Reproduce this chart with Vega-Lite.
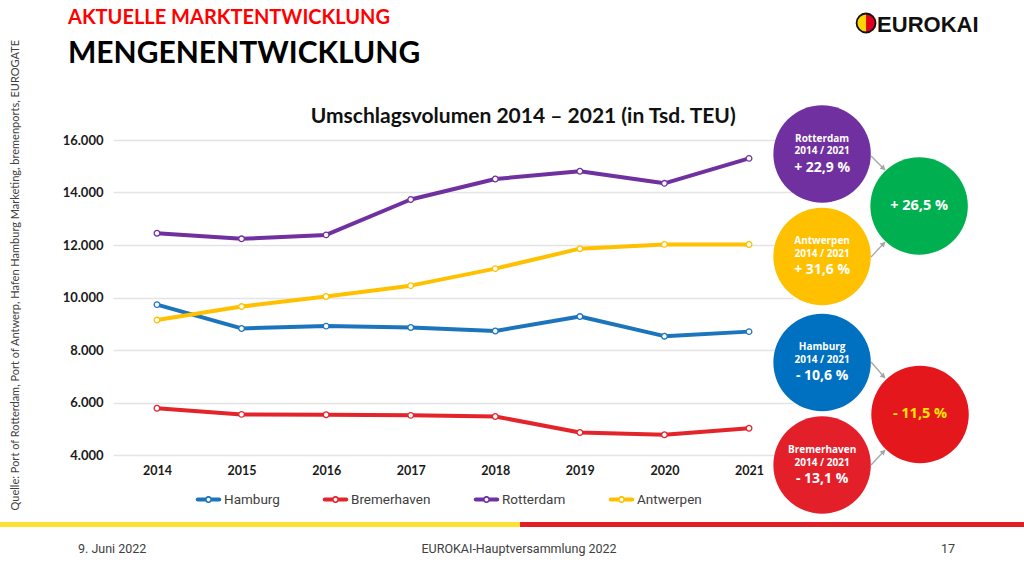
{
  "$schema": "https://vega.github.io/schema/vega-lite/v6.json",
  "width": 680,
  "height": 315,
  "autosize": {"type": "none"},
  "padding": {"left": 113, "top": 140, "right": 231, "bottom": 113},
  "background": "#ffffff",
  "config": {"view": {"stroke": null}},
  "datasets": {
    "teu": [
      {"year": 2014, "port": "Hamburg", "teu": 9729},
      {"year": 2015, "port": "Hamburg", "teu": 8821},
      {"year": 2016, "port": "Hamburg", "teu": 8910},
      {"year": 2017, "port": "Hamburg", "teu": 8860},
      {"year": 2018, "port": "Hamburg", "teu": 8725},
      {"year": 2019, "port": "Hamburg", "teu": 9274},
      {"year": 2020, "port": "Hamburg", "teu": 8527},
      {"year": 2021, "port": "Hamburg", "teu": 8700},
      {"year": 2014, "port": "Bremerhaven", "teu": 5780},
      {"year": 2015, "port": "Bremerhaven", "teu": 5547},
      {"year": 2016, "port": "Bremerhaven", "teu": 5535},
      {"year": 2017, "port": "Bremerhaven", "teu": 5510},
      {"year": 2018, "port": "Bremerhaven", "teu": 5468},
      {"year": 2019, "port": "Bremerhaven", "teu": 4856},
      {"year": 2020, "port": "Bremerhaven", "teu": 4771},
      {"year": 2021, "port": "Bremerhaven", "teu": 5020},
      {"year": 2014, "port": "Rotterdam", "teu": 12450},
      {"year": 2015, "port": "Rotterdam", "teu": 12235},
      {"year": 2016, "port": "Rotterdam", "teu": 12385},
      {"year": 2017, "port": "Rotterdam", "teu": 13734},
      {"year": 2018, "port": "Rotterdam", "teu": 14513},
      {"year": 2019, "port": "Rotterdam", "teu": 14811},
      {"year": 2020, "port": "Rotterdam", "teu": 14349},
      {"year": 2021, "port": "Rotterdam", "teu": 15300},
      {"year": 2014, "port": "Antwerpen", "teu": 9140},
      {"year": 2015, "port": "Antwerpen", "teu": 9654},
      {"year": 2016, "port": "Antwerpen", "teu": 10037},
      {"year": 2017, "port": "Antwerpen", "teu": 10451},
      {"year": 2018, "port": "Antwerpen", "teu": 11100},
      {"year": 2019, "port": "Antwerpen", "teu": 11860},
      {"year": 2020, "port": "Antwerpen", "teu": 12023},
      {"year": 2021, "port": "Antwerpen", "teu": 12020}
    ]
  },
  "layer": [
    {
      "data": {"name": "teu"},
      "mark": {"type": "line", "strokeWidth": 4, "strokeCap": "round", "strokeJoin": "round"},
      "encoding": {
        "x": {"field": "year", "type": "quantitative",
          "scale": {"domain": [2013.48, 2021.52], "nice": false, "zero": false},
          "axis": {"values": [2014, 2015, 2016, 2017, 2018, 2019, 2020, 2021], "format": "d", "title": null, "domain": false, "ticks": false, "grid": false, "labelFont": "Lato", "labelFontWeight": "bold", "labelFontSize": 12.5, "labelColor": "#1a1a1a", "labelPadding": 9, "labelFlush": false, "labelOverlap": false}},
        "y": {"field": "teu", "type": "quantitative",
          "scale": {"domain": [4000, 16000], "nice": false, "zero": false},
          "axis": {"values": [4000, 6000, 8000, 10000, 12000, 14000, 16000], "title": null, "domain": false, "ticks": false, "grid": true, "gridColor": "#e4e4e4", "gridWidth": 1.5, "labelExpr": "replace(format(datum.value, ','), ',', '.')", "labelFont": "Lato", "labelFontWeight": "bold", "labelFontSize": 13, "labelColor": "#1a1a1a", "labelPadding": 10}},
        "color": {"field": "port", "type": "nominal",
          "scale": {"domain": ["Hamburg", "Bremerhaven", "Rotterdam", "Antwerpen"], "range": ["#1c75bc", "#e3242b", "#7030a0", "#ffc000"]},
          "legend": {"orient": "none", "legendX": 83, "legendY": 347, "direction": "horizontal", "title": null,
            "symbolType": "M-0.86,-0.16L-0.23,-0.16A0.28,0.28 0 0 1 0.23,-0.16L0.86,-0.16A0.16,0.16 0 0 1 0.86,0.16L0.23,0.16A0.28,0.28 0 0 1 -0.23,0.16L-0.86,0.16A0.16,0.16 0 0 1 -0.86,-0.16ZM0.15,0A0.15,0.15 0 1 0 -0.15,0A0.15,0.15 0 1 0 0.15,0Z",
            "symbolSize": 625, "symbolStrokeWidth": 0, "labelFont": "Roboto", "labelFontSize": 13.5, "labelColor": "#404040", "labelOffset": 3, "columnPadding": 42, "padding": 0,
            "encode": {"symbols": {"update": {"fill": {"scale": "color", "field": "value"}, "fillOpacity": {"value": 1}, "opacity": {"value": 1}}}}}}
      }
    },
    {
      "data": {"name": "teu"},
      "mark": {"type": "point", "filled": true, "size": 32, "strokeWidth": 1.3, "opacity": 1},
      "encoding": {
        "x": {"field": "year", "type": "quantitative"},
        "y": {"field": "teu", "type": "quantitative"},
        "fill": {"value": "#ffffff"},
        "stroke": {"field": "port", "type": "nominal", "scale": {"domain": ["Hamburg", "Bremerhaven", "Rotterdam", "Antwerpen"], "range": ["#1c75bc", "#e3242b", "#7030a0", "#ffc000"]}, "legend": null}
      }
    },
    {
      "data": {"values": [{"port": "Rotterdam", "period": "2014 / 2021", "change": "+ 22,9 %"}]},
      "encoding": {"x": {"datum": 2021.864, "type": "quantitative"}, "y": {"datum": 15467, "type": "quantitative"}},
      "layer": [
        {"mark": {"type": "point", "shape": "circle", "filled": true, "size": 9500, "color": "#7030a0", "opacity": 1, "strokeWidth": 0}},
        {"mark": {"type": "text", "dy": -15, "font": "Open Sans", "fontWeight": "bold", "fontSize": 10, "color": "#ffffff"}, "encoding": {"text": {"field": "port"}}},
        {"mark": {"type": "text", "dy": -2.5, "font": "Open Sans", "fontWeight": "bold", "fontSize": 10, "color": "#ffffff"}, "encoding": {"text": {"field": "period"}}},
        {"mark": {"type": "text", "dy": 14, "font": "Open Sans", "fontWeight": "bold", "fontSize": 14, "color": "#ffffff"}, "encoding": {"text": {"field": "change"}}}
      ]
    },
    {
      "data": {"values": [{"port": "Antwerpen", "period": "2014 / 2021", "change": "+ 31,6 %"}]},
      "encoding": {"x": {"datum": 2021.864, "type": "quantitative"}, "y": {"datum": 11562, "type": "quantitative"}},
      "layer": [
        {"mark": {"type": "point", "shape": "circle", "filled": true, "size": 9500, "color": "#ffc000", "opacity": 1, "strokeWidth": 0}},
        {"mark": {"type": "text", "dy": -15, "font": "Open Sans", "fontWeight": "bold", "fontSize": 10, "color": "#ffffff"}, "encoding": {"text": {"field": "port"}}},
        {"mark": {"type": "text", "dy": -2.5, "font": "Open Sans", "fontWeight": "bold", "fontSize": 10, "color": "#ffffff"}, "encoding": {"text": {"field": "period"}}},
        {"mark": {"type": "text", "dy": 14, "font": "Open Sans", "fontWeight": "bold", "fontSize": 14, "color": "#ffffff"}, "encoding": {"text": {"field": "change"}}}
      ]
    },
    {
      "data": {"values": [{"port": "Hamburg", "period": "2014 / 2021", "change": "- 10,6 %"}]},
      "encoding": {"x": {"datum": 2021.864, "type": "quantitative"}, "y": {"datum": 7524, "type": "quantitative"}},
      "layer": [
        {"mark": {"type": "point", "shape": "circle", "filled": true, "size": 9500, "color": "#0070c0", "opacity": 1, "strokeWidth": 0}},
        {"mark": {"type": "text", "dy": -15, "font": "Open Sans", "fontWeight": "bold", "fontSize": 10, "color": "#ffffff"}, "encoding": {"text": {"field": "port"}}},
        {"mark": {"type": "text", "dy": -2.5, "font": "Open Sans", "fontWeight": "bold", "fontSize": 10, "color": "#ffffff"}, "encoding": {"text": {"field": "period"}}},
        {"mark": {"type": "text", "dy": 14, "font": "Open Sans", "fontWeight": "bold", "fontSize": 14, "color": "#ffffff"}, "encoding": {"text": {"field": "change"}}}
      ]
    },
    {
      "data": {"values": [{"port": "Bremerhaven", "period": "2014 / 2021", "change": "- 13,1 %"}]},
      "encoding": {"x": {"datum": 2021.864, "type": "quantitative"}, "y": {"datum": 3619, "type": "quantitative"}},
      "layer": [
        {"mark": {"type": "point", "shape": "circle", "filled": true, "size": 9500, "color": "#e3202a", "opacity": 1, "strokeWidth": 0}},
        {"mark": {"type": "text", "dy": -15, "font": "Open Sans", "fontWeight": "bold", "fontSize": 10, "color": "#ffffff"}, "encoding": {"text": {"field": "port"}}},
        {"mark": {"type": "text", "dy": -2.5, "font": "Open Sans", "fontWeight": "bold", "fontSize": 10, "color": "#ffffff"}, "encoding": {"text": {"field": "period"}}},
        {"mark": {"type": "text", "dy": 14, "font": "Open Sans", "fontWeight": "bold", "fontSize": 14, "color": "#ffffff"}, "encoding": {"text": {"field": "change"}}}
      ]
    },
    {
      "data": {"values": [{"group": "Rotterdam + Antwerpen", "change": "+ 26,5 %"}]},
      "encoding": {"x": {"datum": 2023.011, "type": "quantitative"}, "y": {"datum": 13486, "type": "quantitative"}},
      "layer": [
        {"mark": {"type": "point", "shape": "circle", "filled": true, "size": 9500, "color": "#00b050", "opacity": 1, "strokeWidth": 0}},
        {"mark": {"type": "text", "font": "Open Sans", "fontWeight": "bold", "fontSize": 14.5, "color": "#ffffff"}, "encoding": {"text": {"field": "change"}}}
      ]
    },
    {
      "data": {"values": [{"group": "Hamburg + Bremerhaven", "change": "- 11,5 %"}]},
      "encoding": {"x": {"datum": 2023.022, "type": "quantitative"}, "y": {"datum": 5543, "type": "quantitative"}},
      "layer": [
        {"mark": {"type": "point", "shape": "circle", "filled": true, "size": 9500, "color": "#e4171c", "opacity": 1, "strokeWidth": 0}},
        {"mark": {"type": "text", "font": "Open Sans", "fontWeight": "bold", "fontSize": 14.5, "color": "#ffe600"}, "encoding": {"text": {"field": "change"}}}
      ]
    },
    {
      "data": {"values": [{"arrow": "Rotterdam"}]},
      "layer": [
        {"mark": {"type": "rule", "color": "#a6a6a6", "strokeWidth": 1.3},
         "encoding": {"x": {"datum": 2022.443, "type": "quantitative"}, "y": {"datum": 15390, "type": "quantitative"}, "x2": {"datum": 2022.608}, "y2": {"datum": 14857}}},
        {"mark": {"type": "point", "shape": "triangle-right", "filled": true, "size": 35, "angle": 45, "color": "#a6a6a6", "opacity": 1},
         "encoding": {"x": {"datum": 2022.59, "type": "quantitative"}, "y": {"datum": 14920, "type": "quantitative"}}}
      ]
    },
    {
      "data": {"values": [{"arrow": "Antwerpen"}]},
      "layer": [
        {"mark": {"type": "rule", "color": "#a6a6a6", "strokeWidth": 1.3},
         "encoding": {"x": {"datum": 2022.443, "type": "quantitative"}, "y": {"datum": 11543, "type": "quantitative"}, "x2": {"datum": 2022.608}, "y2": {"datum": 12114}}},
        {"mark": {"type": "point", "shape": "triangle-right", "filled": true, "size": 35, "angle": 315, "color": "#a6a6a6", "opacity": 1},
         "encoding": {"x": {"datum": 2022.59, "type": "quantitative"}, "y": {"datum": 12050, "type": "quantitative"}}}
      ]
    },
    {
      "data": {"values": [{"arrow": "Hamburg"}]},
      "layer": [
        {"mark": {"type": "rule", "color": "#a6a6a6", "strokeWidth": 1.3},
         "encoding": {"x": {"datum": 2022.443, "type": "quantitative"}, "y": {"datum": 7543, "type": "quantitative"}, "x2": {"datum": 2022.608}, "y2": {"datum": 6933}}},
        {"mark": {"type": "point", "shape": "triangle-right", "filled": true, "size": 35, "angle": 45, "color": "#a6a6a6", "opacity": 1},
         "encoding": {"x": {"datum": 2022.59, "type": "quantitative"}, "y": {"datum": 6995, "type": "quantitative"}}}
      ]
    },
    {
      "data": {"values": [{"arrow": "Bremerhaven"}]},
      "layer": [
        {"mark": {"type": "rule", "color": "#a6a6a6", "strokeWidth": 1.3},
         "encoding": {"x": {"datum": 2022.443, "type": "quantitative"}, "y": {"datum": 3619, "type": "quantitative"}, "x2": {"datum": 2022.608}, "y2": {"datum": 4190}}},
        {"mark": {"type": "point", "shape": "triangle-right", "filled": true, "size": 35, "angle": 315, "color": "#a6a6a6", "opacity": 1},
         "encoding": {"x": {"datum": 2022.59, "type": "quantitative"}, "y": {"datum": 4126, "type": "quantitative"}}}
      ]
    },
    {
      "data": {"values": [{"kicker": "AKTUELLE MARKTENTWICKLUNG", "headline": "MENGENENTWICKLUNG", "chartTitle": "Umschlagsvolumen 2014 – 2021 (in Tsd. TEU)", "source": "Quelle: Port of Rotterdam, Port of Antwerp, Hafen Hamburg Marketing, bremenports, EUROGATE", "brand": "EUROKAI"}]},
      "layer": [
        {"mark": {"type": "text", "align": "left", "baseline": "alphabetic", "font": "Lato", "fontWeight": "bold", "fontSize": 20, "color": "#ff0000"},
         "encoding": {"x": {"datum": 2012.948, "type": "quantitative"}, "y": {"datum": 20419, "type": "quantitative"}, "text": {"field": "kicker"}}},
        {"mark": {"type": "text", "align": "left", "baseline": "alphabetic", "font": "Lato", "fontWeight": "bold", "fontSize": 30, "color": "#000000"},
         "encoding": {"x": {"datum": 2012.948, "type": "quantitative"}, "y": {"datum": 18933, "type": "quantitative"}, "text": {"field": "headline"}}},
        {"mark": {"type": "text", "align": "center", "baseline": "alphabetic", "font": "Lato", "fontWeight": "bold", "fontSize": 21, "color": "#111111"},
         "encoding": {"x": {"datum": 2018.33, "type": "quantitative"}, "y": {"datum": 16648, "type": "quantitative"}, "text": {"field": "chartTitle"}}},
        {"mark": {"type": "text", "align": "center", "baseline": "middle", "angle": 270, "font": "Lato", "fontSize": 11, "color": "#404040"},
         "encoding": {"x": {"datum": 2012.333, "type": "quantitative"}, "y": {"datum": 10850, "type": "quantitative"}, "text": {"field": "source"}}},
        {"mark": {"type": "point", "shape": "M0,-1A1,1 0 0 0 0,1Z", "filled": true, "size": 361, "color": "#ffd500", "opacity": 1, "strokeWidth": 0},
         "encoding": {"x": {"datum": 2022.384, "type": "quantitative"}, "y": {"datum": 20457, "type": "quantitative"}}},
        {"mark": {"type": "point", "shape": "M0,-1A1,1 0 0 1 0,1Z", "filled": true, "size": 361, "color": "#e3001b", "opacity": 1, "strokeWidth": 0},
         "encoding": {"x": {"datum": 2022.384, "type": "quantitative"}, "y": {"datum": 20457, "type": "quantitative"}}},
        {"mark": {"type": "point", "shape": "circle", "filled": false, "size": 361, "color": "#111111", "strokeWidth": 1.8, "opacity": 1},
         "encoding": {"x": {"datum": 2022.384, "type": "quantitative"}, "y": {"datum": 20457, "type": "quantitative"}}},
        {"mark": {"type": "text", "align": "left", "baseline": "alphabetic", "font": "Liberation Sans", "fontWeight": "bold", "fontSize": 22, "color": "#111111"},
         "encoding": {"x": {"datum": 2022.514, "type": "quantitative"}, "y": {"datum": 20126, "type": "quantitative"}, "text": {"field": "brand"}}}
      ]
    },
    {
      "data": {"values": [{"date": "9. Juni 2022", "event": "EUROKAI-Hauptversammlung 2022", "page": "17"}]},
      "layer": [
        {"mark": {"type": "rule", "color": "#ffe134", "strokeWidth": 5},
         "encoding": {"x": {"datum": 2012.144, "type": "quantitative"}, "x2": {"datum": 2018.2925}, "y": {"datum": 1352, "type": "quantitative"}}},
        {"mark": {"type": "rule", "color": "#e31e24", "strokeWidth": 5},
         "encoding": {"x": {"datum": 2018.2925, "type": "quantitative"}, "x2": {"datum": 2024.252}, "y": {"datum": 1352, "type": "quantitative"}}},
        {"mark": {"type": "text", "align": "left", "baseline": "middle", "font": "Roboto", "fontSize": 12.5, "color": "#404040"},
         "encoding": {"x": {"datum": 2013.066, "type": "quantitative"}, "y": {"datum": 419, "type": "quantitative"}, "text": {"field": "date"}}},
        {"mark": {"type": "text", "align": "center", "baseline": "middle", "font": "Roboto", "fontSize": 12.5, "color": "#404040"},
         "encoding": {"x": {"datum": 2018.281, "type": "quantitative"}, "y": {"datum": 419, "type": "quantitative"}, "text": {"field": "event"}}},
        {"mark": {"type": "text", "align": "center", "baseline": "middle", "font": "Roboto", "fontSize": 12.5, "color": "#404040"},
         "encoding": {"x": {"datum": 2023.353, "type": "quantitative"}, "y": {"datum": 419, "type": "quantitative"}, "text": {"field": "page"}}}
      ]
    }
  ]
}
